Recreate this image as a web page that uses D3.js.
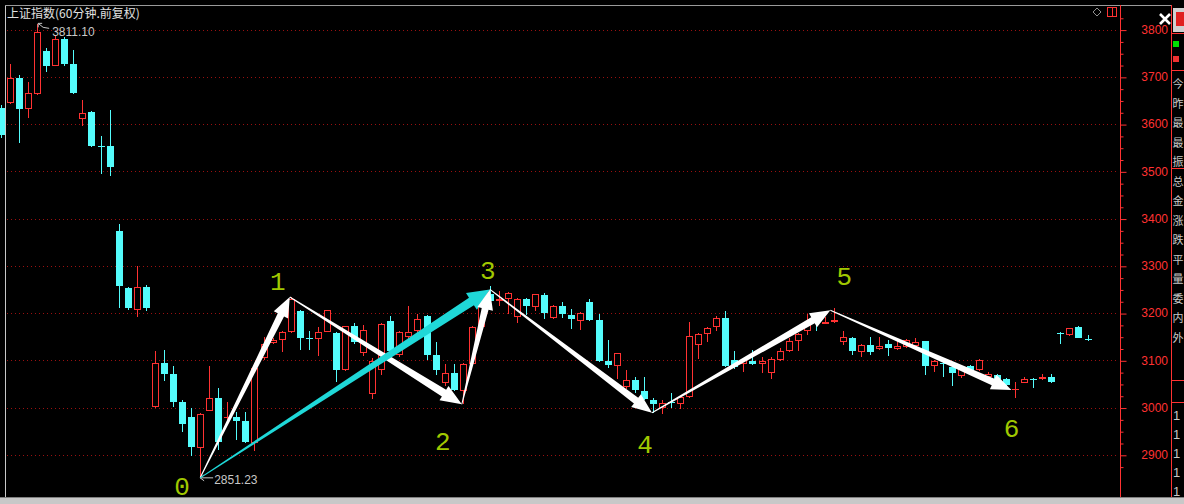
<!DOCTYPE html>
<html><head><meta charset="utf-8">
<script src="https://cdn.jsdelivr.net/npm/d3@7/dist/d3.min.js"></script>
<style>html,body{margin:0;padding:0;background:#000;overflow:hidden}svg{display:block}</style>
</head><body>
<svg id="c" width="1184" height="504"></svg>
<script>
// ---------- DATA ----------
const title = "上证指数(60分钟.前复权)";
const startIndex = -1; // first candle is partly cut off at the left edge
const opens  = [3634,3645,3698,3631,3664,3754,3723,3780,3727,3610,3625,3553,3553,3373,3254,3207,3255,3001,3094,3072,3011,2979,2915,2993,3020,2977,2980,2971,2925,3105,3137,3142,3159,3205,3148,3146,3160,3158,3079,3172,3115,3029,3080,3184,3112,3149,3161,3193,3112,3053,3073,3034,3092,3170,3241,3225,3230,3191,3230,3213,3239,3189,3215,3196,3184,3223,3186,3098,3089,3043,3059,3036,3016,3000,3011,3008,3022,3132,3155,3170,3189,3101,3093,3099,3092,3073,3101,3119,3140,3161,3189,3177,3181,3138,3148,3117,3133,3124,3135,3124,3129,3131,3140,3088,3095,3086,3067,3087,3079,3065,3068,3060,3037,3052,3061,3060,3064,3157,3154,3170,3146];
const closes = [3576,3698,3632,3665,3794,3723,3780,3727,3666,3624,3553,3551,3509,3257,3211,3255,3211,3094,3071,3012,2965,2916,2987,3021,2927,2979,2972,2927,3083,3135,3144,3160,3230,3148,3147,3160,3206,3079,3172,3138,3165,3099,3177,3119,3160,3160,3187,3112,3080,3073,3038,3093,3170,3222,3225,3230,3242,3230,3214,3240,3200,3214,3198,3187,3200,3186,3099,3090,3115,3059,3038,3018,3007,3010,3010,3022,3152,3156,3168,3189,3087,3086,3101,3092,3099,3103,3120,3141,3156,3174,3182,3182,3186,3149,3119,3133,3117,3131,3126,3131,3142,3138,3088,3098,3094,3073,3081,3079,3101,3072,3060,3048,3039,3061,3060,3064,3054,3156,3168,3148,3145];
const highs  = [3640,3727,3703,3689,3811.1,3760,3786,3785,3756,3650,3628,3574,3629,3388,3255,3300,3259,3119,3121,3089,3015,3000,2988,3089,3041,3012,2990,2991,3085,3149,3148,3162,3235,3206,3161,3170,3207,3159,3173,3179,3174,3105,3178,3194,3162,3216,3199,3196,3138,3093,3093,3094,3172,3224,3257,3246,3244,3231,3231,3241,3242,3218,3224,3209,3202,3230,3197,3144,3116,3080,3065,3065,3020,3017,3031,3024,3181,3158,3170,3194,3205,3119,3103,3121,3107,3106,3126,3147,3158,3197,3193,3192,3211,3163,3150,3135,3149,3149,3142,3140,3145,3147,3141,3100,3103,3088,3085,3090,3102,3075,3070,3062,3054,3064,3062,3072,3072,3160,3169,3173,3153];
const lows   = [3570,3643,3560,3613,3662,3710,3722,3723,3663,3597,3552,3494,3490,3211,3206,3192,3204,3000,3056,3001,2948,2898,2851.23,2992,2911,2970,2932,2924,2908,3100,3135,3117,3158,3122,3122,3110,3159,3055,3078,3134,3110,3019,3068,3115,3108,3145,3155,3100,3068,3045,3036,3007,3090,3165,3222,3214,3198,3180,3196,3205,3187,3187,3189,3167,3165,3184,3097,3083,3060,3040,3030,3015,2988,2986,2999,2997,3020,3103,3138,3161,3085,3081,3076,3090,3073,3061,3098,3117,3119,3154,3163,3176,3180,3133,3112,3106,3112,3121,3110,3122,3127,3129,3069,3076,3064,3045,3062,3075,3077,3062,3058,3045,3021,3051,3042,3059,3053,3135,3152,3147,3140];
const yTicks = [2900,3000,3100,3200,3300,3400,3500,3600,3700,3800];
const highLabel = "3811.10", lowLabel = "2851.23";
// wave pivots: [candle index, price]
const pivotNames  = ["0","1","2","3","4","5","6"];
const pivotIndex  = [21, 30.9, 49.9, 53, 70.9, 90.6, 110.6];
const pivotPrice  = [2851.23, 3234, 3007, 3250, 2989, 3206, 3037];
const whiteWaves  = [[0,1],[1,2],[2,3],[3,4],[4,5],[5,6]];
const cyanWaves   = [[0,3]];
const sideChars   = ["今","昨","最","最","振","总","金","涨","跌","平","量","委","内","外"];
const sideNums    = ["1","1","1","1","1"];

// ---------- LAYOUT ----------
const W = 1184, H = 504;
const RED = "#ff3232", CYAN = "#54fcfc", GRID = "#9a1010";
const svg = d3.select("#c");
svg.append("rect").attr("width",W).attr("height",H).attr("fill","#000");

const x = d3.scaleLinear().domain([0,119]).range([10,1087.5]);
const y = d3.scaleLinear().domain([2900,3800]).range([454.8,29.6]);

const candles = opens.map((o,k)=>({i:k+startIndex,o,c:closes[k],h:highs[k],l:lows[k]}));

// grid
svg.append("g").selectAll("line").data(yTicks).join("line")
  .attr("x1",7).attr("x2",1118)
  .attr("y1",d=>Math.round(y(d))+0.5).attr("y2",d=>Math.round(y(d))+0.5)
  .attr("stroke",GRID).attr("stroke-width",1).attr("stroke-dasharray","1,3");

// frame
svg.append("line").attr("x1",5.5).attr("x2",5.5).attr("y1",5).attr("y2",497).attr("stroke","#c8c8c8");
svg.append("line").attr("x1",5).attr("x2",1171).attr("y1",5.5).attr("y2",5.5).attr("stroke","#9a9a9a");
svg.append("rect").attr("x",0).attr("y",497).attr("width",W).attr("height",7).attr("fill","#c8c8c8");
svg.append("line").attr("x1",0).attr("x2",W).attr("y1",497.5).attr("y2",497.5).attr("stroke","#808080");

// candles
const cg = svg.append("g");
candles.forEach(d=>{
  const cx = Math.round(x(d.i));
  const up = d.c >= d.o;
  const col = up ? RED : CYAN;
  const yt = Math.round(y(Math.max(d.o,d.c))), yb = Math.round(y(Math.min(d.o,d.c)));
  const yh = Math.round(y(d.h)), yl = Math.round(y(d.l));
  if (yb - yt <= 1) {
    cg.append("line").attr("x1",cx+0.5).attr("x2",cx+0.5).attr("y1",yh).attr("y2",yl).attr("stroke",col);
    cg.append("line").attr("x1",cx-3).attr("x2",cx+4).attr("y1",yt+0.5).attr("y2",yt+0.5).attr("stroke",col);
    return;
  }
  if (up) {
    if (yh < yt) cg.append("line").attr("x1",cx+0.5).attr("x2",cx+0.5).attr("y1",yh).attr("y2",yt).attr("stroke",col);
    if (yl > yb) cg.append("line").attr("x1",cx+0.5).attr("x2",cx+0.5).attr("y1",yb).attr("y2",yl).attr("stroke",col);
    cg.append("rect").attr("x",cx-2.5).attr("y",yt+0.5).attr("width",6).attr("height",yb-yt-1)
      .attr("fill","#000").attr("stroke",col);
  } else {
    cg.append("line").attr("x1",cx+0.5).attr("x2",cx+0.5).attr("y1",yh).attr("y2",yl).attr("stroke",col);
    cg.append("rect").attr("x",cx-3).attr("y",yt).attr("width",7).attr("height",yb-yt).attr("fill",col);
  }
});

// high / low markers
function marker(i, p, txt, dir){
  const px = x(i), py = y(p);
  const g = svg.append("g").attr("stroke","#c8c8c8").attr("fill","none");
  if (dir === "up") {
    g.append("path").attr("d",`M${px+1},${py-1} L${px+6},${py+3} L${px+12},${py+4} M${px+1},${py-1} l4,0 M${px+1},${py-1} l0,4`);
    svg.append("text").attr("x",px+15).attr("y",py+12).text(txt)
      .attr("fill","#c8c8c8").attr("font-family","Liberation Sans, Arial, sans-serif").attr("font-size",12);
  } else {
    g.append("path").attr("d",`M${px},${py} L${px+13},${py} M${px},${py} l4,-3 M${px},${py} l4,3`);
    svg.append("text").attr("x",px+14).attr("y",py+6).text(txt)
      .attr("fill","#c8c8c8").attr("font-family","Liberation Sans, Arial, sans-serif").attr("font-size",12);
  }
}
marker(3, 3811.1, highLabel, "up");
marker(21, 2851.23, lowLabel, "down");

// y axis
const ax = svg.append("g").attr("transform","translate(1120,0)");
ax.append("line").attr("x1",0.5).attr("x2",0.5).attr("y1",5).attr("y2",497).attr("stroke",RED);
const minor = d3.range(2875, 3826, 25).filter(v=>v%100!==0);
ax.append("g").call(d3.axisRight(y).tickValues(minor).tickSize(3).tickFormat(""))
  .call(g=>{g.select(".domain").remove(); g.selectAll("line").attr("stroke",RED).attr("transform","translate(0.5,0.5)");});
ax.append("g").call(d3.axisRight(y).tickValues(yTicks).tickSize(6).tickFormat(d3.format("d")))
  .call(g=>{
    g.select(".domain").remove();
    g.selectAll("line").attr("stroke",RED).attr("transform","translate(0.5,0.5)");
    g.selectAll("text").attr("x",48).attr("text-anchor","end").attr("fill",RED)
      .attr("font-family","Liberation Sans, Arial, sans-serif").attr("font-size",12);
  });

// right side panel
svg.append("line").attr("x1",1171.5).attr("x2",1171.5).attr("y1",5).attr("y2",497).attr("stroke",RED);
[33,70,168,380,402].forEach(v=>svg.append("line").attr("x1",1171).attr("x2",W).attr("y1",v+0.5).attr("y2",v+0.5).attr("stroke",RED));
svg.append("rect").attr("x",1173).attr("y",8).attr("width",11).attr("height",24).attr("fill","#d0d0d0");
svg.append("rect").attr("x",1176).attr("y",12).attr("width",8).attr("height",14).attr("fill","#e02020");
svg.append("rect").attr("x",1173).attr("y",41).attr("width",6).attr("height",6).attr("fill","#00e000");
svg.append("rect").attr("x",1173).attr("y",56).attr("width",6).attr("height",6).attr("fill","#f03030");
svg.append("g").selectAll("text").data(sideChars).join("text")
  .attr("x",1172.5).attr("y",(d,k)=>88+k*19.5).text(d=>d)
  .attr("fill","#c8c8c8").attr("font-family","Noto Sans CJK SC").attr("font-size",11);
svg.append("g").selectAll("text").data(sideNums).join("text")
  .attr("x",1173).attr("y",(d,k)=>420+k*19).text(d=>d)
  .attr("fill","#c8c8c8").attr("font-family","Liberation Sans").attr("font-size",13);

// top-right icons
svg.append("path").attr("d","M1097,8 l4,4 l-4,4 l-4,-4 z").attr("fill","none").attr("stroke","#909090");
svg.append("rect").attr("x",1107.5).attr("y",7.5).attr("width",9).attr("height",9).attr("fill","none").attr("stroke",RED);
svg.append("line").attr("x1",1112.5).attr("x2",1112.5).attr("y1",8).attr("y2",16).attr("stroke",RED);
svg.append("path").attr("d","M1160,14 L1170,24 M1170,14 L1160,24").attr("stroke","#fff").attr("stroke-width",2.6);

// title
svg.append("text").attr("x",7).attr("y",18).text(title)
  .attr("fill","#e0e0e0").attr("font-family","Noto Sans CJK SC").attr("font-size",12);

// wave arrows
function arrowPts(p0,p1,w0,w1,hw,hl){
  const dx=p1[0]-p0[0], dy=p1[1]-p0[1], L=Math.hypot(dx,dy);
  const ux=dx/L, uy=dy/L, nx=-uy, ny=ux;
  const bx=p1[0]-ux*hl, by=p1[1]-uy*hl;
  return [[p0[0]+nx*w0/2,p0[1]+ny*w0/2],[bx+nx*w1/2,by+ny*w1/2],[bx+nx*hw/2,by+ny*hw/2],p1,
          [bx-nx*hw/2,by-ny*hw/2],[bx-nx*w1/2,by-ny*w1/2],[p0[0]-nx*w0/2,p0[1]-ny*w0/2]];
}
const pt = k=>[x(pivotIndex[k]), y(pivotPrice[k])];
const line = d3.line();
const ag = svg.append("g");
function drawWave(w,col,w1,hw,hl){
  ag.append("path").attr("d",line(arrowPts(pt(w[0]),pt(w[1]),1,w1,hw,hl))+"Z").attr("fill",col);
}
drawWave(whiteWaves[0],"#fff",7,16,20);
drawWave(whiteWaves[1],"#fff",8,17,21);
cyanWaves.forEach(w=>drawWave(w,"#1fd8d8",9,20,22));
whiteWaves.slice(2).forEach(w=>drawWave(w,"#fff",7,16,20));

// wave labels
const labelOffset = [[-18,17],[-12,-7],[-19,46],[-2,-10],[-7,40],[14,-25],[0,47]];
svg.append("g").selectAll("text").data(pivotNames).join("text")
  .attr("x",(d,k)=>pt(k)[0]+labelOffset[k][0]).attr("y",(d,k)=>pt(k)[1]+labelOffset[k][1])
  .attr("text-anchor","middle").text(d=>d)
  .attr("fill","#a0c800").attr("font-family","Liberation Mono, monospace").attr("font-size",26);
</script>
</body></html>
